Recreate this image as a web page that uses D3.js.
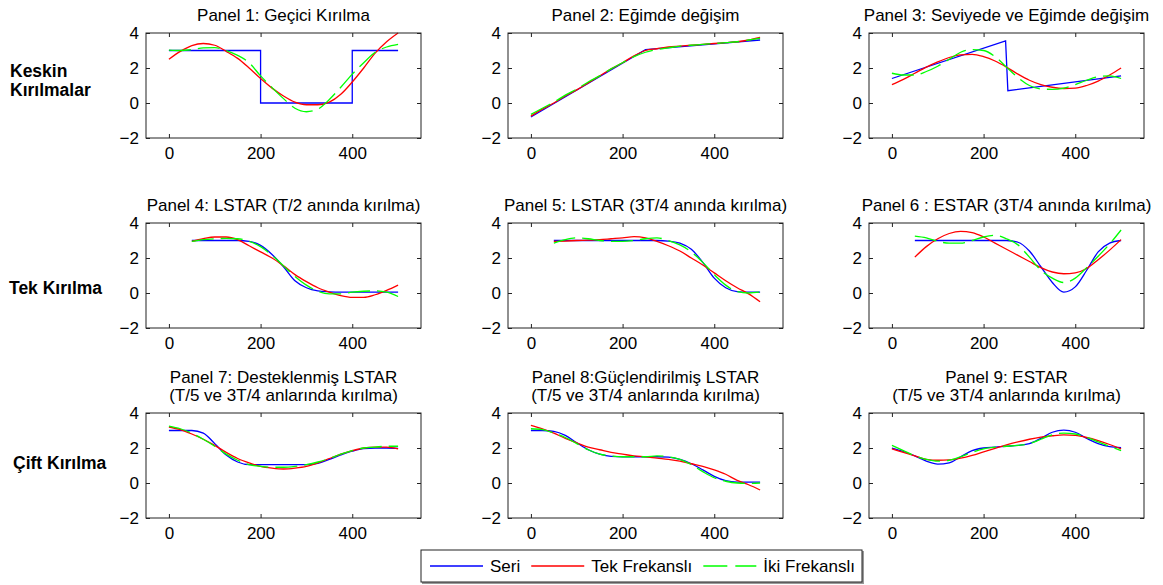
<!DOCTYPE html>
<html>
<head>
  <meta charset="UTF-8">
  <script src="https://cdn.jsdelivr.net/npm/d3@7"></script>
  <style>
    body { margin: 0; background: #fff; }
    svg text { font-family: "Liberation Sans", Arial, sans-serif; }
  </style>
  <title>Kırılma paneli</title>
</head>
<body>
<svg width="1163" height="585"></svg>
<script>
  // x grids (time index)
  var xGrid = [0, 25, 50, 75, 100, 125, 150, 175, 200, 225, 250, 275, 300, 325, 350, 375, 400, 425, 450, 475, 500];
  var xGridLate = [50, 75, 100, 125, 150, 175, 200, 225, 250, 275, 300, 325, 350, 375, 400, 425, 450, 475, 500];

  // Panel 1: gecici kirilma
  var p1SeriX = [0, 200, 200, 400, 400, 500];
  var p1Seri = [3, 3, 0, 0, 3, 3];
  var p1Tek = [2.5, 2.95, 3.28, 3.4, 3.3, 2.95, 2.55, 2.0, 1.4, 0.85, 0.4, 0.05, -0.1, -0.1, 0.05, 0.5, 1.2, 2.0, 2.85, 3.5, 4.0];
  var p1Iki = [3.02, 3.0, 3.05, 3.15, 3.16, 3.0, 2.72, 2.3, 1.55, 0.88, 0.25, -0.3, -0.5, -0.35, 0.2, 0.9, 1.65, 2.3, 2.9, 3.2, 3.35];

  // Panel 2: egimde degisim
  var p2SeriX = [0, 250, 500];
  var p2Seri = [-0.8, 3.05, 3.6];
  var p2Tek = [-0.75, -0.35, 0.0, 0.4, 0.75, 1.15, 1.55, 1.95, 2.3, 2.7, 3.0, 3.1, 3.2, 3.25, 3.3, 3.35, 3.4, 3.45, 3.5, 3.6, 3.75];
  var p2Iki = [-0.65, -0.3, 0.05, 0.45, 0.8, 1.2, 1.55, 1.95, 2.3, 2.65, 2.9, 3.05, 3.15, 3.25, 3.3, 3.35, 3.4, 3.45, 3.5, 3.6, 3.7];

  // Panel 3: seviyede ve egimde degisim
  var p3SeriX = [0, 248, 253, 500];
  var p3Seri = [1.4, 3.55, 0.7, 1.55];
  var p3Tek = [1.05, 1.35, 1.7, 2.05, 2.35, 2.6, 2.75, 2.78, 2.65, 2.4, 2.05, 1.65, 1.3, 1.05, 0.9, 0.83, 0.85, 1.0, 1.25, 1.6, 2.0];
  var p3Iki = [1.7, 1.6, 1.6, 1.8, 2.1, 2.5, 2.9, 3.05, 3.0, 2.65, 2.05, 1.45, 1.0, 0.8, 0.78, 0.85, 1.05, 1.3, 1.5, 1.55, 1.4];

  // Panel 4-6 (baslangic 50)
  var p4Seri = [3.0, 3.0, 3.0, 3.0, 3.0, 2.95, 2.72, 2.2, 1.5, 0.7, 0.3, 0.12, 0.07, 0.05, 0.05, 0.05, 0.05, 0.05, 0.05];
  var p4Tek = [2.95, 3.1, 3.2, 3.2, 3.05, 2.7, 2.35, 2.0, 1.55, 1.05, 0.65, 0.3, 0.05, -0.15, -0.25, -0.25, -0.1, 0.15, 0.45];
  var p4Iki = [2.95, 3.05, 3.1, 3.12, 3.1, 2.95, 2.65, 2.15, 1.55, 0.95, 0.45, 0.1, -0.05, -0.05, 0.05, 0.1, 0.12, 0.05, -0.2];

  var p5Seri = [3.0, 3.0, 3.0, 3.0, 3.0, 3.0, 3.0, 3.0, 3.0, 3.0, 2.97, 2.85, 2.5, 1.75, 0.85, 0.3, 0.08, 0.05, 0.05];
  var p5Tek = [2.95, 2.97, 3.0, 3.02, 3.05, 3.1, 3.15, 3.22, 3.15, 2.95, 2.7, 2.4, 2.0, 1.6, 1.15, 0.7, 0.3, -0.05, -0.5];
  var p5Iki = [2.85, 3.05, 3.15, 3.1, 3.0, 2.95, 2.95, 3.0, 3.1, 3.15, 3.0, 2.75, 2.35, 1.75, 1.05, 0.45, 0.08, 0.0, 0.05];

  var p6Seri = [3.0, 3.0, 3.0, 3.0, 3.0, 3.0, 3.0, 3.0, 3.0, 2.9, 2.4, 1.5, 0.6, 0.05, 0.35, 1.3, 2.35, 2.85, 3.0];
  var p6Tek = [2.05, 2.65, 3.1, 3.4, 3.52, 3.45, 3.2, 2.85, 2.5, 2.15, 1.8, 1.45, 1.2, 1.1, 1.15, 1.4, 1.9, 2.45, 3.05];
  var p6Iki = [3.25, 3.15, 2.95, 2.85, 2.85, 3.0, 3.2, 3.3, 3.1, 2.75, 2.05, 1.3, 0.85, 0.6, 0.85, 1.45, 2.1, 2.8, 3.6];

  // Panel 7-9 (cift kirilma)
  var p7Seri = [3.0, 3.0, 3.0, 2.85, 2.25, 1.6, 1.2, 1.05, 1.05, 1.05, 1.05, 1.05, 1.05, 1.12, 1.35, 1.6, 1.82, 1.97, 2.0, 2.0, 1.98];
  var p7Tek = [3.2, 3.05, 2.8, 2.5, 2.15, 1.75, 1.4, 1.15, 0.95, 0.85, 0.8, 0.85, 0.95, 1.15, 1.4, 1.65, 1.85, 2.0, 2.05, 2.05, 1.95];
  var p7Iki = [3.25, 3.1, 2.85, 2.5, 2.1, 1.65, 1.3, 1.05, 0.95, 0.9, 0.9, 0.95, 1.05, 1.2, 1.4, 1.65, 1.85, 2.0, 2.05, 2.1, 2.1];

  var p8Seri = [3.0, 3.0, 2.95, 2.72, 2.3, 1.9, 1.65, 1.52, 1.5, 1.5, 1.5, 1.5, 1.48, 1.35, 1.1, 0.75, 0.38, 0.13, 0.05, 0.05, 0.05];
  var p8Tek = [3.3, 3.1, 2.85, 2.55, 2.3, 2.05, 1.9, 1.75, 1.65, 1.55, 1.5, 1.42, 1.35, 1.25, 1.1, 0.95, 0.75, 0.5, 0.15, -0.1, -0.4];
  var p8Iki = [3.1, 3.05, 2.85, 2.6, 2.25, 1.9, 1.65, 1.55, 1.5, 1.5, 1.5, 1.55, 1.5, 1.35, 1.05, 0.65, 0.3, 0.1, 0.0, -0.02, 0.0];

  var p9Seri = [2.0, 1.8, 1.55, 1.25, 1.08, 1.15, 1.5, 1.85, 2.0, 2.05, 2.1, 2.15, 2.25, 2.55, 2.9, 3.02, 2.9, 2.55, 2.25, 2.08, 2.02];
  var p9Tek = [1.95, 1.75, 1.55, 1.35, 1.3, 1.32, 1.42, 1.58, 1.78, 1.98, 2.18, 2.35, 2.5, 2.62, 2.7, 2.75, 2.72, 2.6, 2.42, 2.2, 1.95];
  var p9Iki = [2.15, 1.85, 1.55, 1.35, 1.25, 1.3, 1.5, 1.75, 1.95, 2.05, 2.1, 2.15, 2.25, 2.5, 2.75, 2.85, 2.8, 2.6, 2.35, 2.1, 1.85];

  var panelTitles = [
    ["Panel 1: Geçici Kırılma"],
    ["Panel 2: Eğimde değişim"],
    ["Panel 3: Seviyede ve Eğimde değişim"],
    ["Panel 4: LSTAR (T/2 anında kırılma)"],
    ["Panel 5: LSTAR (3T/4 anında kırılma)"],
    ["Panel 6 : ESTAR (3T/4 anında kırılma)"],
    ["Panel 7: Desteklenmiş LSTAR", "(T/5 ve 3T/4 anlarında kırılma)"],
    ["Panel 8:Güçlendirilmiş LSTAR", "(T/5 ve 3T/4 anlarında kırılma)"],
    ["Panel 9: ESTAR", "(T/5 ve 3T/4 anlarında kırılma)"]
  ];
  var rowLabels = [["Keskin", "Kırılmalar"], ["Tek Kırılma"], ["Çift Kırılma"]];
  var xTicks = [0, 200, 400];
  var yTicks = [-2, 0, 2, 4];
  var seriesNames = ["Seri", "Tek Frekanslı", "İki Frekanslı"];
  var seriesColors = ["#0000ff", "#ff0000", "#00ff00"];

  // build panel table
  var panels = [
    [p1SeriX, p1Seri, xGrid, p1Tek, xGrid, p1Iki, true],
    [p2SeriX, p2Seri, xGrid, p2Tek, xGrid, p2Iki, true],
    [p3SeriX, p3Seri, xGrid, p3Tek, xGrid, p3Iki, true],
    [xGridLate, p4Seri, xGridLate, p4Tek, xGridLate, p4Iki, false],
    [xGridLate, p5Seri, xGridLate, p5Tek, xGridLate, p5Iki, false],
    [xGridLate, p6Seri, xGridLate, p6Tek, xGridLate, p6Iki, false],
    [xGrid, p7Seri, xGrid, p7Tek, xGrid, p7Iki, false],
    [xGrid, p8Seri, xGrid, p8Tek, xGrid, p8Iki, false],
    [xGrid, p9Seri, xGrid, p9Tek, xGrid, p9Iki, false]
  ];

  var colLeft = [146, 508, 869];
  var rowTop = [33, 223, 413];
  var pw = 275, ph = 105;
  var fs = 17;

  var svg = d3.select("svg");

  function zip(xs, ys) {
    return xs.map(function (x, i) { return [x, ys[i]]; });
  }

  panels.forEach(function (p, i) {
    var left = colLeft[i % 3], top = rowTop[Math.floor(i / 3)];
    var x = d3.scaleLinear().domain([-50, 550]).range([left, left + pw]);
    var y = d3.scaleLinear().domain([-2, 4]).range([top + ph, top]);
    var g = svg.append("g");

    // title
    var lines = panelTitles[i];
    lines.forEach(function (t, k) {
      g.append("text")
        .attr("x", left + pw / 2)
        .attr("y", top - 12.5 - (lines.length - 1 - k) * 18)
        .attr("text-anchor", "middle")
        .attr("font-size", fs)
        .attr("fill", "#000")
        .text(t);
    });

    g.append("rect")
      .attr("x", left).attr("y", top)
      .attr("width", pw).attr("height", ph)
      .attr("fill", "#fff");

    var fmt = d3.format("d");
    var axB = g.append("g").attr("transform", "translate(0," + (top + ph) + ")")
      .call(d3.axisBottom(x).tickValues(xTicks).tickFormat(fmt).tickSizeInner(-4).tickSizeOuter(0).tickPadding(9));
    var axT = g.append("g").attr("transform", "translate(0," + top + ")")
      .call(d3.axisTop(x).tickValues(xTicks).tickSizeInner(-4).tickSizeOuter(0).tickFormat(""));
    var axL = g.append("g").attr("transform", "translate(" + left + ",0)")
      .call(d3.axisLeft(y).tickValues(yTicks).tickFormat(fmt).tickSizeInner(-4).tickSizeOuter(0).tickPadding(7));
    var axR = g.append("g").attr("transform", "translate(" + (left + pw) + ",0)")
      .call(d3.axisRight(y).tickValues(yTicks).tickSizeInner(-4).tickSizeOuter(0).tickFormat(""));

    [axB, axT, axL, axR].forEach(function (a) {
      a.select(".domain").remove();
      a.selectAll("line").attr("stroke", "#222");
      a.selectAll("text").attr("font-size", fs).attr("fill", "#000")
        .attr("font-family", "Liberation Sans, Arial, sans-serif");
    });
    axL.selectAll("text").attr("dy", "0.34em");

    var smooth = d3.line().curve(d3.curveMonotoneX)
      .x(function (d) { return x(d[0]); }).y(function (d) { return y(d[1]); });
    var straight = d3.line()
      .x(function (d) { return x(d[0]); }).y(function (d) { return y(d[1]); });

    g.append("path")
      .attr("d", (p[6] ? straight : smooth)(zip(p[0], p[1])))
      .attr("fill", "none").attr("stroke", seriesColors[0]).attr("stroke-width", 1.3);
    g.append("path")
      .attr("d", smooth(zip(p[2], p[3])))
      .attr("fill", "none").attr("stroke", seriesColors[1]).attr("stroke-width", 1.3);
    g.append("path")
      .attr("d", smooth(zip(p[4], p[5])))
      .attr("fill", "none").attr("stroke", seriesColors[2]).attr("stroke-width", 1.3)
      .attr("stroke-dasharray", "22,7");

    // box
    g.append("rect")
      .attr("x", left).attr("y", top)
      .attr("width", pw).attr("height", ph)
      .attr("fill", "none").attr("stroke", "#222").attr("stroke-width", 1);
  });

  // row labels
  var rowLabelPos = [[10, 77], [9, 294], [13, 469]];
  rowLabels.forEach(function (lines, r) {
    lines.forEach(function (t, k) {
      svg.append("text")
        .attr("x", rowLabelPos[r][0])
        .attr("y", rowLabelPos[r][1] + k * 19)
        .attr("font-size", 17.5)
        .attr("font-weight", "bold")
        .attr("fill", "#000")
        .text(t);
    });
  });

  // legend
  var leg = svg.append("g");
  leg.append("rect")
    .attr("x", 422).attr("y", 551).attr("width", 442).attr("height", 33)
    .attr("fill", "#999");
  leg.append("rect")
    .attr("x", 421).attr("y", 550).attr("width", 441).attr("height", 32)
    .attr("fill", "#fff").attr("stroke", "#222").attr("stroke-width", 1);
  var lx = 430, ly = 566;
  seriesNames.forEach(function (name, i) {
    var sample = leg.append("line")
      .attr("x1", lx).attr("x2", lx + 53)
      .attr("y1", ly).attr("y2", ly)
      .attr("stroke", seriesColors[i]).attr("stroke-width", 1.3);
    if (i === 2) sample.attr("stroke-dasharray", "24,8");
    var t = leg.append("text")
      .attr("x", lx + 60).attr("y", ly)
      .attr("dy", "0.35em")
      .attr("font-size", fs).attr("fill", "#000")
      .text(name);
    lx = lx + 60 + t.node().getComputedTextLength() + 11;
  });
</script>
</body>
</html>
